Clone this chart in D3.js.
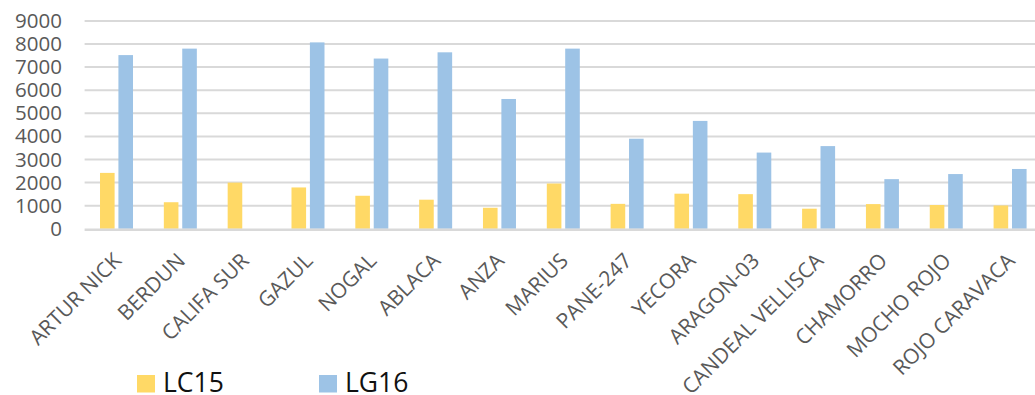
<!DOCTYPE html>
<html>
<head>
<meta charset="utf-8">
<script src="https://cdn.jsdelivr.net/npm/d3@7"></script>
<style>
  html, body { margin: 0; padding: 0; background: #fff; }
  svg { display: block; font-family: "Open Sans", "Noto Sans", sans-serif; }
</style>
</head>
<body>
<svg id="chart" width="1035" height="395"></svg>
<script>
// Varieties along the x axis
const categories = ["ARTUR NICK", "BERDUN", "CALIFA SUR", "GAZUL", "NOGAL", "ABLACA", "ANZA",
  "MARIUS", "PANE-247", "YECORA", "ARAGON-03", "CANDEAL VELLISCA", "CHAMORRO", "MOCHO ROJO", "ROJO CARAVACA"];

// Series names and values per variety (null = no value)
const seriesNames = ["LC15", "LG16"];
const lc15 = [2420, 1150, 2000, 1790, 1430, 1260, 910, 1960, 1080, 1520, 1500, 870, 1070, 1030, 1010];
const lg16 = [7520, 7800, null, 8070, 7370, 7640, 5620, 7800, 3900, 4670, 3300, 3580, 2150, 2370, 2590];

// Y axis ticks
const yTicks = [0, 1000, 2000, 3000, 4000, 5000, 6000, 7000, 8000, 9000];

const colors = { LC15: "#FFD966", LG16: "#9DC3E6" };
const seriesValues = { LC15: lc15, LG16: lg16 };

const svg = d3.select("#chart");

const x0 = d3.scaleBand().domain(categories).range([84.6, 1042]).paddingInner(0).paddingOuter(0);
const groupW = 33;
const x1 = d3.scaleBand().domain(seriesNames)
  .range([x0.bandwidth() / 2 - groupW / 2, x0.bandwidth() / 2 + groupW / 2])
  .paddingInner(0.207).paddingOuter(0);
const y = d3.scaleLinear().domain([0, 9000]).range([228.8, 20.9]);

// Horizontal gridlines
svg.append("g")
  .selectAll("line")
  .data(yTicks.filter(d => d > 0))
  .join("line")
  .attr("x1", 84.6).attr("x2", 1042)
  .attr("y1", d => y(d)).attr("y2", d => y(d))
  .attr("stroke", "#d9d9d9").attr("stroke-width", 2);

// Y axis labels
const yAxis = d3.axisLeft(y).tickValues(yTicks).tickSize(0).tickPadding(0).tickFormat(d3.format("d"));
const yg = svg.append("g").attr("transform", "translate(62,0)").call(yAxis);
yg.select(".domain").remove();
yg.selectAll("text")
  .attr("fill", "#595959").attr("font-size", 20.5)
  .attr("font-family", "'Open Sans', sans-serif");

// Bars
const groups = svg.append("g")
  .selectAll("g")
  .data(categories)
  .join("g")
  .attr("transform", d => `translate(${x0(d)},0)`);

groups.selectAll("rect")
  .data((d, i) => seriesNames.map(s => ({ s, v: seriesValues[s][i] })).filter(o => o.v != null))
  .join("rect")
  .attr("x", d => x1(d.s))
  .attr("width", x1.bandwidth())
  .attr("y", d => y(d.v))
  .attr("height", d => y(0) - y(d.v))
  .attr("fill", d => colors[d.s]);

// Category axis line
svg.append("line")
  .attr("x1", 84.6).attr("x2", 1042)
  .attr("y1", 229.8).attr("y2", 229.8)
  .attr("stroke", "#d9d9d9").attr("stroke-width", 2.5);

// Rotated category labels
svg.append("g")
  .selectAll("text")
  .data(categories)
  .join("text")
  .attr("transform", d => `translate(${x0(d) + x0.bandwidth() / 2 + 6},262) rotate(-45)`)
  .attr("text-anchor", "end")
  .attr("font-size", 21)
  .attr("fill", "#595959")
  .text(d => d);

// Legend
const legendX = [137, 319];
const legend = svg.append("g")
  .selectAll("g")
  .data(seriesNames)
  .join("g")
  .attr("transform", (d, i) => `translate(${legendX[i]},375)`);
legend.append("rect")
  .attr("width", 18).attr("height", 17.5)
  .attr("fill", d => colors[d]);
legend.append("text")
  .attr("x", 26).attr("y", 17.3)
  .attr("font-size", 26.5)
  .attr("fill", "#111")
  .text(d => d);
</script>
</body>
</html>
